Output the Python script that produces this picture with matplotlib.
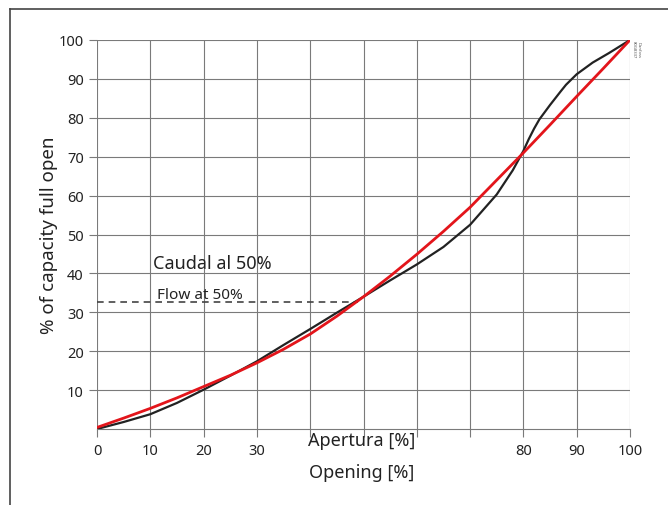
import matplotlib
matplotlib.use('Agg')
import matplotlib.pyplot as plt
from matplotlib.lines import Line2D

plt.rcParams['font.family'] = ['Noto Sans', 'DejaVu Sans']

# Curva real de la valvula (negra)
apertura_real = [0, 5, 10, 15, 20, 25, 30, 35, 40, 45, 50, 55, 60, 65, 70,
                 75, 78, 80, 81, 82, 83, 85, 87, 88, 90, 93, 96, 100]
caudal_real = [0, 1.8, 3.8, 6.7, 10.1, 13.7, 17.4, 21.6, 25.7, 29.9, 34, 38.2,
               42.3, 46.8, 52.5, 60.3, 66.5, 71.5, 74.5, 77.2, 79.6, 83.3,
               86.8, 88.5, 91.2, 94.2, 96.6, 100]

# Curva ideal (roja)
apertura_ideal = [0, 5, 10, 15, 20, 25, 30, 35, 40, 45, 50, 55, 60, 65, 70,
                  75, 80, 85, 90, 95, 100]
caudal_ideal = [0.4, 2.8, 5.3, 8, 10.9, 13.8, 17, 20.5, 24.4, 29, 34, 39.3,
                44.9, 50.8, 57, 64, 71, 78.2, 85.5, 92.7, 100]

caudal_50 = 32.7
xticks = [0, 10, 20, 30, 40, 50, 60, 70, 80, 90, 100]
xtick_labels = ['0', '10', '20', '30', '', '', '', '', '80', '90', '100']
yticks = [10, 20, 30, 40, 50, 60, 70, 80, 90, 100]

fig = plt.figure(figsize=(6.68, 5.06), dpi=100)
ax = fig.add_axes([97/668, 1 - 430/506, 533/668, 389/506])

# Marco de la figura
fig.add_artist(Line2D([10/668, 10/668], [0, 1 - 10/506], color='#444444', lw=1.2))
fig.add_artist(Line2D([10/668, 1], [1 - 10/506, 1 - 10/506], color='#444444', lw=1.2))

ax.set_xlim(0, 100)
ax.set_ylim(0, 100)
ax.set_xticks(xticks)
ax.set_xticklabels(xtick_labels)
ax.set_yticks(yticks)
ax.grid(True, color='#7a7a7a', lw=0.8)
for s in ['top', 'right', 'left']:
    ax.spines[s].set_visible(False)
ax.spines['bottom'].set_color('#7a7a7a')
ax.spines['bottom'].set_linewidth(0.8)
ax.tick_params(axis='both', colors='#7a7a7a', labelcolor='#222222',
               labelsize=10.5, length=6, width=0.8)
ax.tick_params(axis='x', pad=4)

ax.plot([0, 49], [caudal_50, caudal_50], ls=(0, (4, 3)), color='#444444', lw=1.2)
ax.plot(apertura_real, caudal_real, color='#222222', lw=1.6, zorder=3)
ax.plot(apertura_ideal, caudal_ideal, color='#e3151b', lw=2, zorder=4)

ax.text(10.5, 41.3, 'Caudal al 50%', fontsize=13, color='#222222', va='baseline')
ax.text(11.3, 33.6, 'Flow at 50%', fontsize=11, color='#222222', va='baseline')

ax.set_ylabel('% of capacity full open', fontsize=13.5, color='#222222')
ax.yaxis.set_label_coords(-0.073, 0.5)
fig.text(362/668, 1 - 441/506, 'Apertura [%]', fontsize=13, color='#222222',
         ha='center', va='center')
fig.text(362/668, 1 - 473/506, 'Opening [%]', fontsize=13, color='#222222',
         ha='center', va='center')
fig.text(636/668, 1 - 50/506, 'Danfoss\n80G8337', fontsize=3, color='#555555',
         rotation=270, ha='center', va='center')

fig.savefig('out.png', dpi=100)
